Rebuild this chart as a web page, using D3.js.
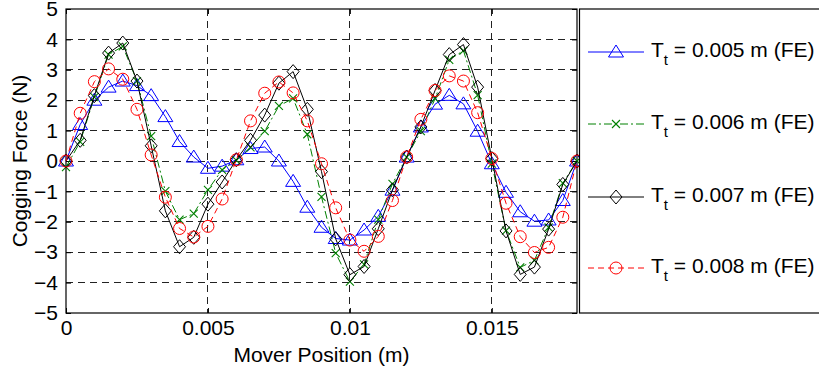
<!DOCTYPE html>
<html><head><meta charset="utf-8">
<script src="https://cdn.jsdelivr.net/npm/d3@7"></script>
<style>body{margin:0;background:#fff;}svg{display:block;font-family:"Liberation Sans",Arial,sans-serif;}</style>
</head><body>
<svg id="c" width="819" height="370"></svg>
<script>
const xStep = 0.0005;
const xTicks = [0, 0.005, 0.01, 0.015];
const xTickLabels = ["0", "0.005", "0.01", "0.015"];
const yTicks = [-5,-4,-3,-2,-1,0,1,2,3,4,5];
const seriesNames = ["0.005", "0.006", "0.007", "0.008"];
const tt005 = [0, 1.2, 2.0, 2.43, 2.63, 2.48, 2.15, 1.46, 0.64, 0.13, -0.24, -0.17, 0.04, 0.41, 0.46, 0, -0.67, -1.52, -2.18, -2.55, -2.6, -2.27, -1.82, -0.96, 0.13, 1.12, 1.87, 2.16, 1.88, 0.98, -0.09, -1.03, -1.67, -1.98, -1.94, -1.3, 0];
const tt006 = [-0.2, 0.63, 2.1, 3.5, 3.77, 2.63, 0.82, -0.99, -1.93, -1.73, -0.95, -0.29, 0.02, 0.45, 0.98, 1.81, 2.06, 0.88, -1.18, -3.03, -3.97, -3.4, -1.93, -0.75, 0.13, 0.98, 2.05, 3.33, 3.63, 2.17, -0.09, -2.29, -3.5, -3.27, -2.18, -0.73, 0];
const tt007 = [0, 0.68, 2.15, 3.55, 3.88, 2.63, 0.5, -1.64, -2.82, -2.51, -1.42, -0.69, 0.04, 0.68, 1.51, 2.56, 2.94, 1.7, -0.35, -2.56, -3.74, -3.47, -2.23, -0.95, 0.13, 1.12, 2.32, 3.5, 3.83, 2.43, 0.08, -2.3, -3.73, -3.49, -2.24, -0.77, 0];
const tt008 = [0, 1.57, 2.61, 3.03, 2.69, 1.7, 0.2, -1.19, -2.22, -2.5, -2.15, -1.25, 0.04, 1.32, 2.23, 2.6, 2.24, 1.32, -0.09, -1.54, -2.6, -2.97, -2.48, -1.3, 0.13, 1.37, 2.32, 2.8, 2.63, 1.59, 0.08, -1.39, -2.49, -3.01, -2.84, -1.85, 0];

const series = [
  {name: seriesNames[0], vals: tt005, color: "#0000ff", dash: null, marker: "tri"},
  {name: seriesNames[1], vals: tt006, color: "#008000", dash: "8,3,2,3", marker: "x"},
  {name: seriesNames[2], vals: tt007, color: "#000000", dash: null, marker: "dia"},
  {name: seriesNames[3], vals: tt008, color: "#ff0000", dash: "6,4", marker: "circ"}
];

const L = 66, R = 577, T = 9, B = 313;
const FONT = '"Liberation Sans",Arial,sans-serif';
const svg = d3.select("#c");
const x = d3.scaleLinear().domain([0, 0.018]).range([L, R]);
const y = d3.scaleLinear().domain([-5, 5]).range([B, T]);

// grid
const g = svg.append("g");
g.selectAll("line.gy").data(yTicks.filter(v => v > -5 && v < 5)).enter().append("line")
  .attr("x1", L).attr("x2", R).attr("y1", d => y(d)).attr("y2", d => y(d))
  .attr("stroke", "#222").attr("stroke-width", 1).attr("stroke-dasharray", "7,5").attr("shape-rendering","crispEdges");
g.selectAll("line.gx").data(xTicks.filter(v => v > 0)).enter().append("line")
  .attr("y1", T).attr("y2", B).attr("x1", d => x(d)).attr("x2", d => x(d))
  .attr("stroke", "#222").attr("stroke-width", 1).attr("stroke-dasharray", "7,5").attr("shape-rendering","crispEdges");

// axes
const fs = 21;
const ax = svg.append("g").attr("transform", `translate(0,${B})`)
  .call(d3.axisBottom(x).tickValues(xTicks).tickFormat((d,i) => xTickLabels[i]).tickSizeInner(-5).tickSizeOuter(0).tickPadding(7));
const ay = svg.append("g").attr("transform", `translate(${L},0)`)
  .call(d3.axisLeft(y).tickValues(yTicks).tickSizeInner(-5).tickSizeOuter(0).tickPadding(8));
const ayr = svg.append("g").attr("transform", `translate(${R},0)`)
  .call(d3.axisRight(y).tickValues(yTicks).tickFormat("").tickSizeInner(-5).tickSizeOuter(0));
const axt = svg.append("g").attr("transform", `translate(0,${T})`)
  .call(d3.axisTop(x).tickValues(xTicks).tickFormat("").tickSizeInner(-5).tickSizeOuter(0));
[ax, ay, ayr, axt].forEach(a => {
  a.selectAll("path").remove();
  a.selectAll("line").attr("stroke", "#000");
  a.selectAll("text").attr("font-size", fs).attr("fill", "#000").attr("font-family", FONT);
});
svg.append("rect").attr("x", L).attr("y", T).attr("width", R - L).attr("height", B - T)
  .attr("fill", "none").attr("stroke", "#000").attr("stroke-width", 1.2);

// labels
svg.append("text").attr("x", (L + R) / 2).attr("y", 362).attr("text-anchor", "middle")
  .attr("font-size", fs).text("Mover Position (m)");
svg.append("text").attr("transform", `translate(27,${(T + B) / 2}) rotate(-90)`).attr("text-anchor", "middle")
  .attr("font-size", fs).text("Cogging Force (N)");

// marker drawing
function drawMarker(sel, type, color) {
  if (type === "tri") {
    sel.append("path").attr("d", "M0,-7L7.5,5L-7.5,5Z").attr("fill", "none").attr("stroke", color).attr("stroke-width", 1);
  } else if (type === "x") {
    sel.append("path").attr("d", "M-4,-4L4,4M-4,4L4,-4").attr("fill", "none").attr("stroke", color).attr("stroke-width", 1.1);
  } else if (type === "dia") {
    sel.append("path").attr("d", "M0,-7L6,0L0,7L-6,0Z").attr("fill", "none").attr("stroke", color).attr("stroke-width", 1);
  } else {
    sel.append("circle").attr("r", 6).attr("fill", "none").attr("stroke", color).attr("stroke-width", 1);
  }
}

svg.append("defs").append("clipPath").attr("id", "pc").append("rect")
  .attr("x", L - 10).attr("y", T - 10).attr("width", R - L + 12).attr("height", B - T + 20);

const lineGen = d3.line().x((d, i) => x(i * xStep)).y(d => y(d));
const plot = svg.append("g").attr("clip-path", "url(#pc)");
series.forEach(s => {
  plot.append("path").attr("d", lineGen(s.vals)).attr("fill", "none").attr("stroke", s.color)
    .attr("stroke-width", 1).attr("stroke-dasharray", s.dash);
  s.vals.forEach((v, i) => {
    const m = plot.append("g").attr("transform", `translate(${x(i * xStep)},${y(v)})`);
    drawMarker(m, s.marker, s.color);
  });
});

// legend
const legX = 579.5;
svg.append("rect").attr("x", legX).attr("y", T).attr("width", 260).attr("height", B - T)
  .attr("fill", "#fff").attr("stroke", "#000").attr("stroke-width", 1.2);
const rowsY = [52, 124, 197, 268];
series.forEach((s, k) => {
  const cy = rowsY[k];
  svg.append("line").attr("x1", 588).attr("x2", 644).attr("y1", cy).attr("y2", cy)
    .attr("stroke", s.color).attr("stroke-width", 1).attr("stroke-dasharray", s.dash);
  const m = svg.append("g").attr("transform", `translate(616,${cy})`);
  drawMarker(m, s.marker, s.color);
  const t = svg.append("text").attr("x", 651).attr("y", cy + 5).attr("font-size", 21).attr("font-family", FONT);
  t.append("tspan").text("T");
  t.append("tspan").attr("dy", 8).attr("font-size", 15).text("t");
  t.append("tspan").attr("dy", -8).text(` = ${s.name} m (FE)`);
});
</script>
</body></html>
